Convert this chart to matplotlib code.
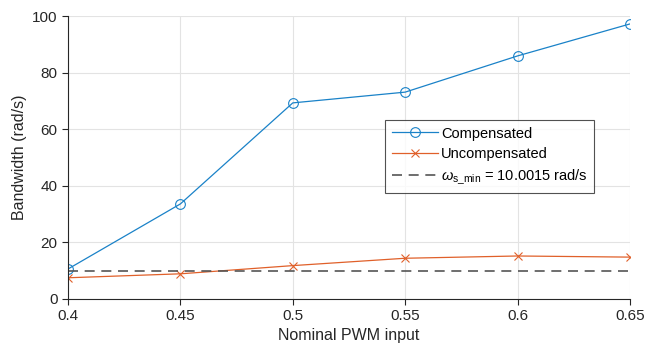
import numpy as np
import matplotlib
matplotlib.use('Agg')
import matplotlib.pyplot as plt

plt.rcParams['font.family'] = ['Liberation Sans', 'DejaVu Sans']
plt.rcParams['mathtext.fontset'] = 'custom'
plt.rcParams['mathtext.it'] = 'Liberation Sans:italic'
plt.rcParams['mathtext.rm'] = 'Liberation Sans'

pwm = [0.4, 0.45, 0.5, 0.55, 0.6, 0.65]
compensated = [10.6, 33.6, 69.3, 73.1, 85.9, 97.2]
uncompensated = [7.5, 8.9, 11.8, 14.4, 15.2, 14.8]
w_s_min = 10.0015

fig = plt.figure(figsize=(6.47, 3.48), dpi=100)
ax = fig.add_axes([68/647, 1 - 299/348, (630-68)/647, (299-16)/348])

ax.plot(pwm, compensated, '-o', color='#1a82c8', lw=0.9, ms=7, mfc='none',
        mew=0.8, label='Compensated')
ax.plot(pwm, uncompensated, '-x', color='#e0602a', lw=0.9, ms=6, mew=0.8,
        label='Uncompensated')
ax.plot([pwm[0], pwm[-1]], [w_s_min, w_s_min], '--', color='#555555', lw=1.2,
        dashes=(6, 4), label=r'$\omega_{\mathrm{s\_min}}$ = 10.0015 rad/s')

ax.set_xlim(0.4, 0.65)
ax.set_ylim(0, 100)
ax.set_xticks(pwm)
ax.set_xticklabels(['0.4', '0.45', '0.5', '0.55', '0.6', '0.65'])
ax.set_yticks([0, 20, 40, 60, 80, 100])
ax.grid(True, color='#e3e3e3', lw=0.8)
ax.set_axisbelow(True)
for s in ['top', 'right']:
    ax.spines[s].set_visible(False)
for s in ['left', 'bottom']:
    ax.spines[s].set_color('#262626')
    ax.spines[s].set_linewidth(0.8)
ax.tick_params(direction='out', length=4, width=0.8, colors='#262626',
               labelsize=11, labelcolor='#262626')
ax.set_xlabel('Nominal PWM input', fontsize=11.5, color='#262626', labelpad=3)
ax.set_ylabel('Bandwidth (rad/s)', fontsize=11.5, color='#262626', labelpad=4)

leg = ax.legend(loc='upper left', bbox_to_anchor=(385/647, 1 - 120/348),
                bbox_transform=fig.transFigure, fontsize=10.5, frameon=True,
                fancybox=False, edgecolor='#262626', handlelength=3.2,
                borderpad=0.45, labelspacing=0.45, handletextpad=0.2,
                borderaxespad=0)
leg.get_frame().set_linewidth(0.8)

fig.savefig('out.png', dpi=100)
